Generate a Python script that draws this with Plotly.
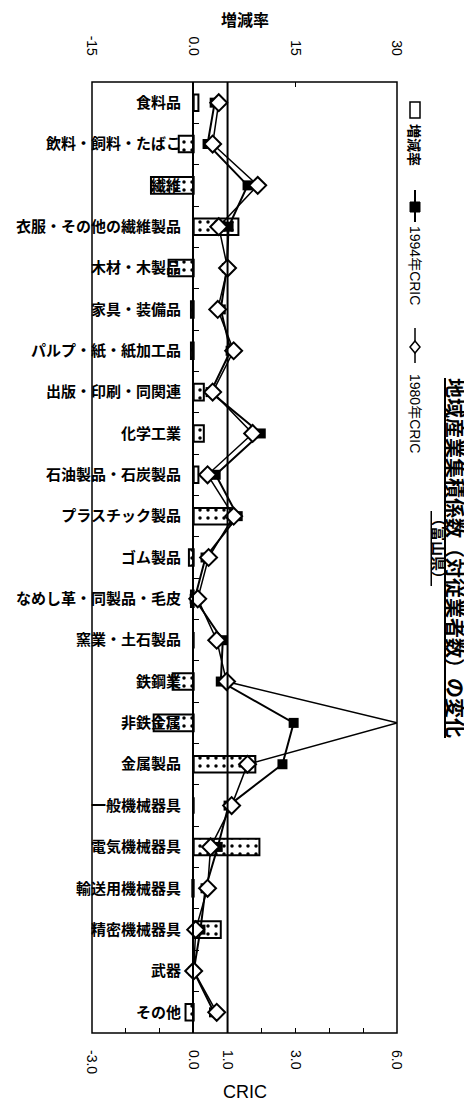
import plotly.graph_objects as go

# 産業分類（上から順）
categories = [
    "食料品", "飲料・飼料・たばこ", "繊維", "衣服・その他の繊維製品", "木材・木製品",
    "家具・装備品", "パルプ・紙・紙加工品", "出版・印刷・同関連", "化学工業",
    "石油製品・石炭製品", "プラスチック製品", "ゴム製品", "なめし革・同製品・毛皮",
    "窯業・土石製品", "鉄鋼業", "非鉄金属", "金属製品", "一般機械器具",
    "電気機械器具", "輸送用機械器具", "精密機械器具", "武器", "その他",
]

# 増減率 (%)
change_rate = [0.7, -2.2, -6.3, 6.6, -3.7, -0.4, -0.4, 1.5, 1.5, 0.7, 5.5, -0.7,
               -0.4, 0.0, -3.1, -5.9, 9.1, 0.0, 9.7, -0.2, 4.0, 0.0, -1.2]

# 1994年 CRIC
cric_1994 = [0.62, 0.41, 1.59, 1.03, 0.98, 0.80, 1.09, 0.50, 1.98, 0.65, 1.30, 0.35,
             0.03, 0.86, 0.80, 2.95, 2.62, 1.03, 0.71, 0.35, 0.20, 0.00, 0.60]

# 1980年 CRIC
cric_1980 = [0.74, 0.56, 1.89, 0.74, 1.00, 0.71, 1.18, 0.56, 1.74, 0.41, 1.18, 0.44,
             0.12, 0.68, 0.97, 6.00, 1.59, 1.12, 0.50, 0.41, 0.06, 0.00, 0.68]

cric_ticks = [-3, -2, -1, 0, 1, 2, 3, 4, 5, 6]
cric_labels = ["-3.0", "", "", "0.0", "1.0", "", "3.0", "", "", "6.0"]
rate_ticks = [-15, 0, 15, 30]
rate_labels = ["-15", "0.0", "15", "30"]

# page body has an 8px margin, so the figure is drawn 8px smaller and shifted
OFF = 8
W, H = 472 - OFF, 1108 - OFF
# plot area in screen pixels
L, R, T, B = 92, 397, 82, 1033

def px(x):
    return (x - L) / (R - L)

def py(y):
    return (B - y) / (B - T)

JP = "Noto Sans CJK JP"
LAT = "Liberation Sans, Noto Sans CJK JP"

fig = go.Figure()

fig.add_trace(go.Bar(
    y=categories, x=change_rate, orientation="h", width=0.4,
    xaxis="x", yaxis="y", name="増減率",
    marker=dict(color="white", line=dict(color="black", width=2),
                pattern=dict(shape=".", fgcolor="black", bgcolor="white",
                             size=8, solidity=0.15)),
))

fig.add_trace(go.Scatter(
    y=categories, x=cric_1994, xaxis="x2", yaxis="y", name="1994年CRIC",
    mode="lines+markers", line=dict(color="black", width=2),
    marker=dict(symbol="square", size=10, color="black", opacity=1),
))

sizes_1980 = [0 if v >= 6 else 13 for v in cric_1980]
fig.add_trace(go.Scatter(
    y=categories, x=cric_1980, xaxis="x2", yaxis="y", name="1980年CRIC",
    mode="lines+markers", line=dict(color="black", width=1.5),
    marker=dict(symbol="diamond", size=sizes_1980, color="white", opacity=1,
                line=dict(color="black", width=2)),
))

shapes = [
    dict(type="rect", xref="paper", yref="paper", x0=0, x1=1, y0=0, y1=1,
         line=dict(color="black", width=1.5)),
    dict(type="line", xref="x2", yref="paper", x0=1, x1=1, y0=0, y1=1,
         line=dict(color="black", width=2)),
]

# legend glyphs (rotated legend)
lx = 415
shapes += [
    dict(type="rect", xref="paper", yref="paper", x0=px(lx - 5), x1=px(lx + 5),
         y0=py(118), y1=py(102), line=dict(color="black", width=1.5),
         fillcolor="white"),
    dict(type="line", xref="paper", yref="paper", x0=px(lx), x1=px(lx),
         y0=py(190), y1=py(222), line=dict(color="black", width=2)),
    dict(type="rect", xref="paper", yref="paper", x0=px(lx - 5), x1=px(lx + 5),
         y0=py(202), y1=py(212), line=dict(color="black", width=1),
         fillcolor="black"),
    dict(type="line", xref="paper", yref="paper", x0=px(lx), x1=px(lx),
         y0=py(328), y1=py(363), line=dict(color="black", width=1.5)),
    dict(type="path", xref="paper", yref="paper",
         path=f"M {px(lx)} {py(341)} L {px(lx + 5)} {py(347)} L {px(lx)} {py(353)} "
              f"L {px(lx - 5)} {py(347)} Z",
         line=dict(color="black", width=1.5), fillcolor="white"),
]

annotations = [
    dict(text="増減率", x=px(lx), y=py(145), textangle=90,
         font=dict(family=JP, size=14, color="black", weight="bold")),
    dict(text="1994年CRIC", x=px(lx), y=py(265), textangle=90,
         font=dict(family=LAT, size=14, color="black")),
    dict(text="1980年CRIC", x=px(lx), y=py(413), textangle=90,
         font=dict(family=LAT, size=14, color="black")),
    dict(text="<u>地域産業集積係数（対従業者数）の変化</u>", x=px(456), y=py(558),
         textangle=90, font=dict(family=JP, size=20, color="black", weight="bold")),
    dict(text="<u>（富山県）</u>", x=px(440), y=py(548), textangle=90,
         font=dict(family=JP, size=15, color="black", weight="bold")),
    dict(text="増減率", x=0.5, y=py(19),
         font=dict(family=JP, size=16, color="black", weight="bold")),
    dict(text="CRIC", x=0.5, y=py(1092),
         font=dict(family=LAT, size=18, color="black")),
]
for a in annotations:
    a.update(xref="paper", yref="paper", showarrow=False,
             xanchor="center", yanchor="middle")

fig.update_layout(
    template="none",
    width=W, height=H,
    margin=dict(l=L - OFF, r=W - (R - OFF), t=T - OFF, b=H - (B - OFF),
                autoexpand=False),
    paper_bgcolor="white", plot_bgcolor="white",
    showlegend=False,
    bargap=0.6,
    shapes=shapes,
    annotations=annotations,
    xaxis=dict(
        side="top", range=[-15, 30], tickvals=rate_ticks, ticktext=rate_labels,
        tickangle=90, ticks="inside", ticklen=5, tickcolor="black",
        showgrid=False, zeroline=False, showline=False, automargin=False,
        ticklabelstandoff=23,
        tickfont=dict(family=LAT, size=14, color="black"),
    ),
    xaxis2=dict(
        side="bottom", overlaying="x", range=[-3, 6], tickvals=cric_ticks,
        ticktext=cric_labels, tickangle=90, ticks="inside", ticklen=5,
        tickcolor="black", showgrid=False, zeroline=False, showline=False,
        automargin=False, ticklabelstandoff=16,
        tickfont=dict(family=LAT, size=14, color="black"),
    ),
    yaxis=dict(
        type="category", range=[len(categories) - 0.5, -0.5],
        anchor="free", position=px(193), side="left",
        showline=True, linecolor="black", linewidth=2,
        ticks="inside", tickson="boundaries", ticklen=5, tickcolor="black",
        showgrid=False, zeroline=False, automargin=False,
        ticklabelstandoff=8,
        tickfont=dict(family=JP, size=15, color="black", weight="bold"),
    ),
)

fig.write_html("out.html")
